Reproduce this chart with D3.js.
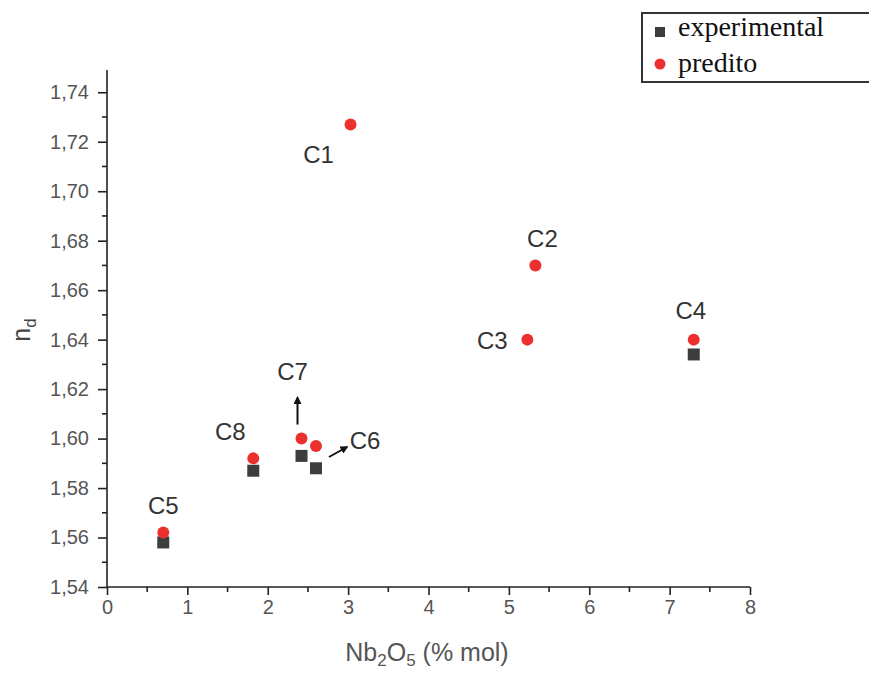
<!DOCTYPE html>
<html>
<head>
<meta charset="utf-8">
<script src="https://cdn.jsdelivr.net/npm/d3@7"></script>
<style>
  body { margin: 0; background: #fff; }
  svg { display: block; }
</style>
</head>
<body>
<script>
// sample names and Nb2O5 content (% mol)
var samples = ["C1", "C2", "C3", "C4", "C5", "C6", "C7", "C8"];
var nb2o5 = [3.03, 5.33, 5.23, 7.30, 0.70, 2.60, 2.42, 1.82];
// refractive index n_d
var experimental = [null, null, null, 1.634, 1.558, 1.588, 1.593, 1.587];
var predito = [1.727, 1.670, 1.640, 1.640, 1.562, 1.597, 1.600, 1.592];
var xTicks = [0, 1, 2, 3, 4, 5, 6, 7, 8];
var yTicks = [1.54, 1.56, 1.58, 1.60, 1.62, 1.64, 1.66, 1.68, 1.70, 1.72, 1.74];

var W = 869, H = 673;
var svg = d3.select("body").append("svg").attr("width", W).attr("height", H);

var x = d3.scaleLinear().domain([0, 8]).range([107, 750]);
var y = d3.scaleLinear().domain([1.54, 1.749]).range([587, 70]);

var fmt = function(d) { return d3.format(".2f")(d).replace(".", ","); };
var tickFont = "20px 'Liberation Sans', Arial, sans-serif";

// minor ticks
var minorX = d3.range(0.5, 8, 1);
var minorY = d3.range(1.55, 1.75, 0.02);

var xAxis = svg.append("g")
    .attr("transform", "translate(0," + y(1.54) + ")")
    .call(d3.axisBottom(x).tickValues(xTicks).tickSize(8).tickPadding(5).tickFormat(d3.format("d")));
xAxis.select(".domain").attr("stroke", "#222").attr("stroke-width", 1.6).attr("d", "M107,0H750");
xAxis.selectAll(".tick line").attr("stroke", "#222").attr("stroke-width", 1.6);
xAxis.selectAll(".tick text").attr("fill", "#555").style("font", tickFont);
xAxis.selectAll(".minor").data(minorX).enter().append("line")
    .attr("x1", function(d) { return x(d); }).attr("x2", function(d) { return x(d); })
    .attr("y1", 0).attr("y2", 5).attr("stroke", "#222").attr("stroke-width", 1.6);

var yAxis = svg.append("g")
    .attr("transform", "translate(" + x(0) + ",0)")
    .call(d3.axisLeft(y).tickValues(yTicks).tickSize(9).tickPadding(9).tickFormat(fmt));
yAxis.select(".domain").attr("stroke", "#222").attr("stroke-width", 1.6).attr("d", "M0,70V587");
yAxis.selectAll(".tick line").attr("stroke", "#222").attr("stroke-width", 1.6);
yAxis.selectAll(".tick text").attr("fill", "#555").style("font", tickFont);
yAxis.selectAll(".minor").data(minorY).enter().append("line")
    .attr("y1", function(d) { return y(d); }).attr("y2", function(d) { return y(d); })
    .attr("x1", 0).attr("x2", -5).attr("stroke", "#222").attr("stroke-width", 1.6);

// axis titles
var xt = svg.append("text").attr("x", 427).attr("y", 661).attr("text-anchor", "middle")
    .attr("fill", "#555").style("font", "25px 'Liberation Sans', Arial, sans-serif");
xt.append("tspan").text("Nb");
xt.append("tspan").attr("dy", 5).style("font-size", "17px").text("2");
xt.append("tspan").attr("dy", -5).text("O");
xt.append("tspan").attr("dy", 5).style("font-size", "17px").text("5");
xt.append("tspan").attr("dy", -5).text(" (% mol)");

var yt = svg.append("text").attr("transform", "translate(30,330) rotate(-90)").attr("text-anchor", "middle")
    .attr("fill", "#444").style("font", "25px 'Liberation Sans', Arial, sans-serif");
yt.append("tspan").text("n");
yt.append("tspan").attr("dy", 6).style("font-size", "17px").text("d");

// markers
var pts = samples.map(function(s, i) {
  return {name: s, x: nb2o5[i], exp: experimental[i], pred: predito[i]};
});
svg.selectAll(".exp").data(pts.filter(function(d) { return d.exp !== null; })).enter().append("rect")
    .attr("x", function(d) { return x(d.x) - 6; })
    .attr("y", function(d) { return y(d.exp) - 6; })
    .attr("width", 12).attr("height", 12).attr("fill", "#3d3d3d");
svg.selectAll(".pred").data(pts).enter().append("circle")
    .attr("cx", function(d) { return x(d.x); })
    .attr("cy", function(d) { return y(d.pred); })
    .attr("r", 6).attr("fill", "#ec2f2f");

// point labels (offsets in px from the predicted point)
var labelOff = {C1: [-32, 30], C2: [7, -27], C3: [-35, 1], C4: [-3, -29], C5: [0, -27], C8: [-23, -27], C7: [-9, -67], C6: [49, -6]};
svg.selectAll(".lbl").data(pts).enter().append("text")
    .attr("x", function(d) { return x(d.x) + labelOff[d.name][0]; })
    .attr("y", function(d) { return y(d.pred) + labelOff[d.name][1]; })
    .attr("text-anchor", "middle").attr("dominant-baseline", "central")
    .attr("fill", "#333").style("font", "24px 'Liberation Sans', Arial, sans-serif")
    .text(function(d) { return d.name; });

// arrows for C7 and C6
svg.append("defs").append("marker").attr("id", "ah").attr("viewBox", "0 0 10 10")
    .attr("refX", 8).attr("refY", 5).attr("markerWidth", 4).attr("markerHeight", 4)
    .attr("orient", "auto").append("path").attr("d", "M0,0L10,5L0,10z").attr("fill", "#111");
var c7 = pts[6], c6 = pts[5];
svg.append("line").attr("x1", x(c7.x) - 4).attr("y1", y(c7.pred) - 14)
    .attr("x2", x(c7.x) - 4).attr("y2", y(c7.pred) - 41)
    .attr("stroke", "#111").attr("stroke-width", 2).attr("marker-end", "url(#ah)");
svg.append("line").attr("x1", x(c6.x) + 13).attr("y1", y(c6.pred) + 11)
    .attr("x2", x(c6.x) + 31).attr("y2", y(c6.pred) + 1)
    .attr("stroke", "#111").attr("stroke-width", 2).attr("marker-end", "url(#ah)");

// legend
var lg = svg.append("g");
lg.append("rect").attr("x", 642).attr("y", 13).attr("width", 240).attr("height", 69)
    .attr("fill", "#fff").attr("stroke", "#333").attr("stroke-width", 2);
lg.append("rect").attr("x", 655).attr("y", 27).attr("width", 10).attr("height", 10).attr("fill", "#3d3d3d");
lg.append("circle").attr("cx", 660).attr("cy", 64).attr("r", 5.5).attr("fill", "#ec2f2f");
lg.append("text").attr("x", 678).attr("y", 36).attr("fill", "#111")
    .style("font", "28px 'Liberation Serif', 'Times New Roman', serif").text("experimental");
lg.append("text").attr("x", 678).attr("y", 72).attr("fill", "#111")
    .style("font", "28px 'Liberation Serif', 'Times New Roman', serif").text("predito");
</script>
</body>
</html>
